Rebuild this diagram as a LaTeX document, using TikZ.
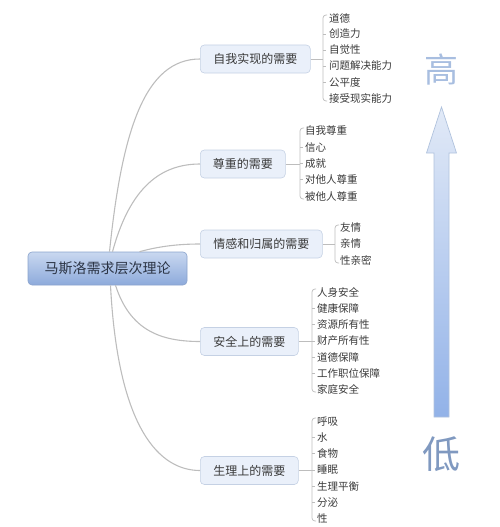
\documentclass[tikz,border=0pt]{standalone}
\usepackage{fontspec}
\setmainfont{Noto Sans CJK SC}
\usetikzlibrary{calc}
\definecolor{roottop}{HTML}{C9D8F0}
\definecolor{rootbot}{HTML}{8DAADB}
\definecolor{rootedge}{HTML}{8AA3CC}
\definecolor{boxfill}{HTML}{EAF0FA}
\definecolor{boxedge}{HTML}{C5D1E4}
\definecolor{textdark}{HTML}{2B3445}
\definecolor{textgray}{HTML}{3A3A3A}
\definecolor{linegray}{HTML}{BDBDBD}
\definecolor{arrowtop}{HTML}{E2EAF7}
\definecolor{arrowbot}{HTML}{92B2E8}
\definecolor{arrowedge}{HTML}{B0C2DD}
\definecolor{gaocol}{HTML}{A8BEE0}
\definecolor{dicol}{HTML}{8099C0}
\begin{document}
\begin{tikzpicture}[x=1pt,y=-1pt,
  rootbox/.style={draw=rootedge, top color=roottop, bottom color=rootbot, rounded corners=4pt,
    minimum width=159pt, minimum height=33pt, inner sep=0pt,
    font=\fontsize{14}{16}\selectfont, text=textdark, line width=0.6pt},
  levelbox/.style={draw=boxedge, fill=boxfill, rounded corners=4pt, minimum height=28pt,
    inner sep=0pt, anchor=west, font=\fontsize{12}{14}\selectfont, text=textgray, line width=0.6pt},
  item/.style={anchor=west, inner sep=0pt, font=\fontsize{10.5}{12}\selectfont, text=textgray},
  branch/.style={draw=linegray, line width=1.1pt},
  stub/.style={draw=linegray, line width=0.7pt},
  bracketline/.style={draw=linegray, line width=0.7pt, rounded corners=3pt}]

\useasboundingbox (0,0) rectangle (500,527);

% root
\node[rootbox] (root) at (107.5,268.5) {马斯洛需求层次理论};

% level boxes
\node[levelbox, minimum width=110pt] (A) at (200,59) {自我实现的需要};
\node[levelbox, minimum width=85pt]  (B) at (200,164) {尊重的需要};
\node[levelbox, minimum width=122pt] (C) at (200,244) {情感和归属的需要};
\node[levelbox, minimum width=98pt]  (D) at (200,341.5) {安全上的需要};
\node[levelbox, minimum width=98pt]  (E) at (200,470.5) {生理上的需要};

% branches from root
\draw[branch] ([xshift=2pt]root.north) .. controls (122,130) and (145,59) .. (A.west);
\draw[branch] ([xshift=5pt]root.north) .. controls (128,195) and (155,164) .. (B.west);
\draw[branch] ([xshift=32pt]root.north) .. controls (160,246) and (180,244) .. (C.west);
\draw[branch] ([xshift=8pt]root.south) .. controls (130,330) and (160,341.5) .. (D.west);
\draw[branch] ([xshift=3pt]root.south) .. controls (118,430) and (160,470.5) .. (E.west);

% group A
\foreach \t [count=\k from 0] in {道德,创造力,自觉性,问题解决能力,公平度,接受现实能力}
  \node[item] (a\k) at (329,18+16*\k) {\t};
\coordinate (Ab) at (323,59);
\draw[stub] (A.east) -- (Ab);
\draw[bracketline] (327,15) -- (323,15) -- (323,101) -- (327,101);
\foreach \k in {1,...,4} \draw[stub] (323,18+16*\k) -- ++(3,0);

% group B
\foreach \t [count=\k from 0] in {自我尊重,信心,成就,对他人尊重,被他人尊重}
  \node[item] (b\k) at (305,131+16.25*\k) {\t};
\coordinate (Bb) at (300,164);
\draw[stub] (B.east) -- (Bb);
\draw[bracketline] (304,128) -- (300,128) -- (300,199) -- (304,199);
\foreach \k in {1,...,3} \draw[stub] (300,131+16.25*\k) -- ++(3,0);

% group C
\foreach \t [count=\k from 0] in {友情,亲情,性亲密}
  \node[item] (c\k) at (340,228+16*\k) {\t};
\coordinate (Cb) at (335,244);
\draw[stub] (C.east) -- (Cb);
\draw[bracketline] (339,225) -- (335,225) -- (335,263) -- (339,263);

% group D
\foreach \t [count=\k from 0] in {人身安全,健康保障,资源所有性,财产所有性,道德保障,工作职位保障,家庭安全}
  \node[item] (d\k) at (317,292.5+16.15*\k) {\t};
\coordinate (Db) at (312,341.5);
\draw[stub] (D.east) -- (Db);
\draw[bracketline] (316,289) -- (312,289) -- (312,392) -- (316,392);
\foreach \k in {1,...,5} \draw[stub] (312,292.5+16.15*\k) -- ++(3,0);

% group E
\foreach \t [count=\k from 0] in {呼吸,水,食物,睡眠,生理平衡,分泌,性}
  \node[item] (e\k) at (317,421.5+16.15*\k) {\t};
\coordinate (Eb) at (312,470.5);
\draw[stub] (E.east) -- (Eb);
\draw[bracketline] (316,418) -- (312,418) -- (312,521) -- (316,521);
\foreach \k in {1,...,5} \draw[stub] (312,421.5+16.15*\k) -- ++(3,0);

% big arrow
\draw[draw=arrowedge, line width=0.7pt, top color=arrowtop, bottom color=arrowbot]
  (441.5,107) -- (456.5,153) -- (449,153) -- (449,417) -- (434,417) -- (434,153) -- (426.5,153) -- cycle;

\node[text=gaocol, font=\fontsize{34}{36}\selectfont, inner sep=0pt] (gao) at (441,70) {高};
\node[text=dicol, font=\fontsize{38}{40}\selectfont, inner sep=0pt] (di) at (441,454) {低};
\end{tikzpicture}
\end{document}
